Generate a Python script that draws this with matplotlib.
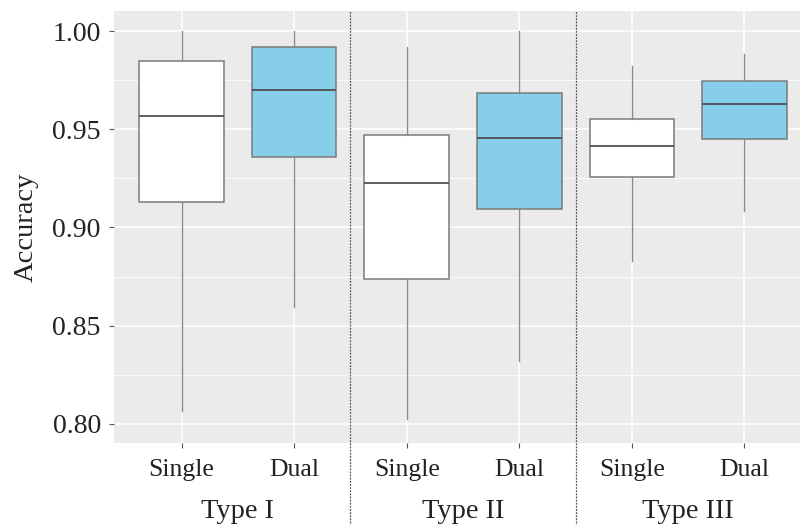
import matplotlib
matplotlib.use("Agg")
import matplotlib.pyplot as plt
from matplotlib.ticker import MultipleLocator

# box statistics (whisker low, q1, median, q3, whisker high)
groups = ['Type I', 'Type II', 'Type III']
methods = ['Single', 'Dual', 'Single', 'Dual', 'Single', 'Dual']
whislo = [0.8067, 0.8593, 0.8025, 0.8321, 0.8830, 0.9084]
q1 = [0.9130, 0.9360, 0.8737, 0.9096, 0.9257, 0.9450]
med = [0.9568, 0.9700, 0.9227, 0.9456, 0.9415, 0.9629]
q3 = [0.9847, 0.9919, 0.9470, 0.9686, 0.9550, 0.9746]
whishi = [1.0000, 1.0000, 0.9920, 1.0000, 0.9823, 0.9883]
fills = ['white', '#87CEEB', 'white', '#87CEEB', 'white', '#87CEEB']

plt.rcParams['font.family'] = ['Liberation Serif', 'DejaVu Serif']

fig = plt.figure(figsize=(8, 5.25), dpi=100)
ax = fig.add_axes([0.1425, 0.1562, 0.8725, 0.8229])
ax.set_facecolor('#EBEBEB')

stats = []
for i in range(len(methods)):
    stats.append({'whislo': whislo[i], 'q1': q1[i], 'med': med[i],
                  'q3': q3[i], 'whishi': whishi[i], 'fliers': []})

pos = list(range(1, len(methods) + 1))
bp = ax.bxp(stats, positions=pos, widths=0.75, patch_artist=True,
            showcaps=False, showfliers=False,
            boxprops=dict(edgecolor='#7a7a7a', linewidth=1.1),
            whiskerprops=dict(color='#8a8a8a', linewidth=1.0),
            medianprops=dict(color='#505050', linewidth=1.3))
for patch, c in zip(bp['boxes'], fills):
    patch.set_facecolor(c)
for b in bp['boxes'] + bp['whiskers'] + bp['medians']:
    b.set_zorder(3)

ax.set_xlim(0.4, 6.6)
ax.set_ylim(0.7903, 1.0102)
ax.yaxis.set_minor_locator(MultipleLocator(0.025))
ax.set_yticks([0.80, 0.85, 0.90, 0.95, 1.00])
ax.set_yticklabels(['0.80', '0.85', '0.90', '0.95', '1.00'])
ax.set_xticks(pos)
ax.set_xticklabels(methods)

ax.grid(which='major', color='white', linewidth=1.1, zorder=0)
ax.grid(which='minor', axis='y', color='white', linewidth=0.6, zorder=0)
ax.set_axisbelow(True)
for s in ax.spines.values():
    s.set_visible(False)

ax.tick_params(axis='y', which='major', length=3.5, color='#555555',
               labelsize=20, labelcolor='#222222', pad=6)
ax.tick_params(axis='x', which='major', length=3.5, color='#555555',
               labelsize=18.5, labelcolor='#222222', pad=8)
ax.tick_params(which='minor', length=0)

ax.set_ylabel('Accuracy', fontsize=20.5, color='#222222', labelpad=10)

# dotted separators between the three types
for xd in [2.5, 4.5]:
    ax.axvline(xd, ymin=-0.2, ymax=1.0, color='#555555', linestyle=(0, (1.5, 1)),
               linewidth=0.9, clip_on=False, zorder=4)

# group labels under the method labels
for k, g in enumerate(groups):
    ax.text(2 * k + 1.5, -0.158, g, transform=ax.get_xaxis_transform(),
            ha='center', va='center', fontsize=20.5, color='#222222')

fig.savefig('out.png', dpi=100)
